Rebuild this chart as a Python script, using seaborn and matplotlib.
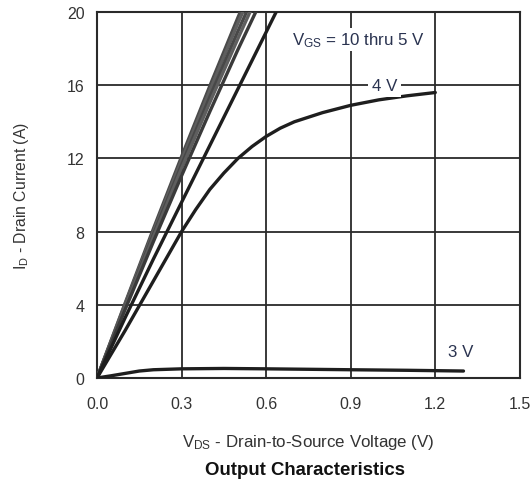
import matplotlib
matplotlib.use("Agg")
import matplotlib.pyplot as plt
import seaborn as sns
import pandas as pd

# ---- data ----
vds_fast = [0.0, 0.1, 0.2, 0.3, 0.4, 0.5, 0.6, 0.7]
id_10v = [0.0, 4.1, 8.15, 12.1, 15.95, 19.7, 23.3, 26.7]
id_9v = [0.0, 4.05, 8.0, 11.9, 15.7, 19.4, 22.9, 26.3]
id_8v = [0.0, 3.95, 7.85, 11.65, 15.35, 18.95, 22.4, 25.7]
id_7v = [0.0, 3.9, 7.7, 11.45, 15.05, 18.55, 21.95, 25.2]
id_6v = [0.0, 3.75, 7.45, 11.05, 14.55, 17.95, 21.2, 24.4]
id_5v = [0.0, 3.3, 6.5, 9.6, 12.7, 15.8, 18.9, 22.0]

vds_4v = [0.0, 0.1, 0.2, 0.25, 0.3, 0.35, 0.4, 0.45, 0.5, 0.55, 0.6, 0.65,
          0.7, 0.8, 0.9, 1.0, 1.1, 1.2]
id_4v = [0.0, 2.6, 5.3, 6.65, 8.0, 9.2, 10.3, 11.2, 12.0, 12.65, 13.2, 13.65,
         14.0, 14.5, 14.9, 15.2, 15.42, 15.6]

vds_3v = [0.0, 0.05, 0.1, 0.15, 0.2, 0.3, 0.45, 0.6, 0.9, 1.1, 1.3]
id_3v = [0.0, 0.12, 0.25, 0.38, 0.45, 0.5, 0.52, 0.5, 0.45, 0.42, 0.38]

x_ticks = [0.0, 0.3, 0.6, 0.9, 1.2, 1.5]
y_ticks = [0, 4, 8, 12, 16, 20]

rows = []
for name, ys in [("10", id_10v), ("9", id_9v), ("8", id_8v), ("7", id_7v), ("6", id_6v), ("5", id_5v)]:
    for x, y in zip(vds_fast, ys):
        rows.append({"VDS": x, "ID": y, "VGS": name})
for x, y in zip(vds_4v, id_4v):
    rows.append({"VDS": x, "ID": y, "VGS": "4"})
for x, y in zip(vds_3v, id_3v):
    rows.append({"VDS": x, "ID": y, "VGS": "3"})
df = pd.DataFrame(rows)

sns.set_theme(style="white")
plt.rcParams["font.family"] = ["Liberation Sans", "DejaVu Sans"]
plt.rcParams["mathtext.fontset"] = "custom"
plt.rcParams["mathtext.rm"] = "Liberation Sans"
plt.rcParams["mathtext.it"] = "Liberation Sans:italic"
plt.rcParams["mathtext.bf"] = "Liberation Sans:bold"

fig = plt.figure(figsize=(5.31, 4.85), dpi=100)
ax = fig.add_axes([0.1827, 0.2186, 0.7963, 0.7546])

palette = {"10": "#4a4a4a", "9": "#5e5e5e", "8": "#484848", "7": "#5e5e5e",
           "6": "#3a3a3a", "5": "#1e1e1e", "4": "#1e1e1e", "3": "#1e1e1e"}
sns.lineplot(data=df, x="VDS", y="ID", hue="VGS", palette=palette, ax=ax,
             legend=False, linewidth=2.4, sort=False, estimator=None, zorder=3)

ax.set_xlim(0, 1.5)
ax.set_ylim(0, 20)
ax.set_xticks(x_ticks)
ax.set_yticks(y_ticks)
ax.set_xticklabels([f"{t:.1f}" for t in x_ticks])
ax.set_yticklabels([str(t) for t in y_ticks])
ax.grid(True, color="#2a2a2a", linewidth=1.3, zorder=1)
ax.set_axisbelow(True)
for s in ax.spines.values():
    s.set_color("#2a2a2a")
    s.set_linewidth(1.5)
ax.tick_params(axis="x", length=0, labelsize=11.5, colors="#333333", pad=13)
ax.tick_params(axis="y", length=0, labelsize=11.5, colors="#333333", pad=9)

ax.set_xlabel(r"V$_{\rm DS}$ - Drain-to-Source Voltage (V)", fontsize=12.2,
              color="#333333", labelpad=15)
ax.set_ylabel(r"I$_{\rm D}$ - Drain Current (A)", fontsize=11.3,
              color="#333333", labelpad=26)

ax.text(0.926, 18.5, r"V$_{\rm GS}$ = 10 thru 5 V", fontsize=12.2, color="#2a3350",
        ha="center", va="center", bbox=dict(facecolor="white", edgecolor="none", pad=1.5),
        zorder=4)
ax.text(1.02, 16.0, "4 V", fontsize=12.2, color="#2a3350",
        ha="center", va="center", bbox=dict(facecolor="white", edgecolor="none", pad=3),
        zorder=4)
ax.text(1.29, 1.45, "3 V", fontsize=12.2, color="#2a3350",
        ha="center", va="center", zorder=4)

fig.text(0.575, 0.029, "Output Characteristics", fontsize=13.4, fontweight="bold",
         color="#111111", ha="center", va="center")

fig.savefig("out.png", dpi=100)
